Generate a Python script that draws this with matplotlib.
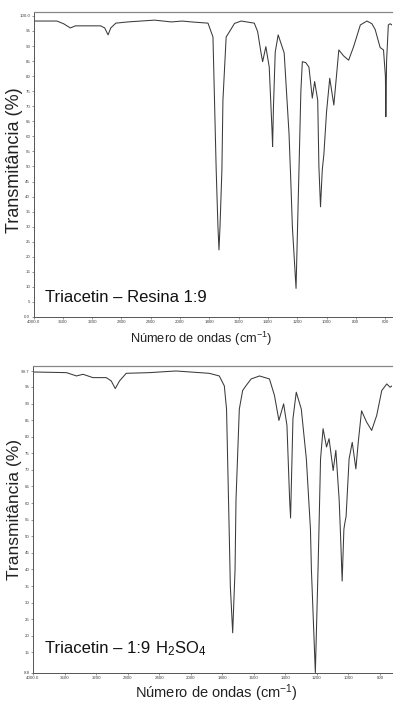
import numpy as np
import matplotlib
matplotlib.use("Agg")
import matplotlib.pyplot as plt

plt.rcParams['font.family'] = ['Liberation Sans', 'DejaVu Sans']
plt.rcParams['mathtext.default'] = 'regular'

# Triacetin - Resina 1:9 (wavenumber, transmittance)
wn_resina = [4000, 3680, 3589, 3497, 3428, 3083, 3028, 2982, 2945, 2876, 2714, 2348, 2117,
             1985, 1922, 1809, 1775, 1753, 1741, 1734, 1727, 1714, 1707, 1685, 1662, 1628,
             1583, 1493, 1470, 1447, 1436, 1414, 1391, 1372, 1368, 1362, 1350, 1330, 1289,
             1256, 1244, 1233, 1208, 1188, 1175, 1165, 1142, 1120, 1097, 1081, 1060, 1052,
             1041, 1029, 1018, 1000, 978, 950, 916, 883, 849, 815, 769, 724, 690, 668, 634,
             611, 598, 595, 590, 578, 566, 553]
t_resina = [98.3, 98.3, 97.4, 96.0, 96.7, 96.7, 96.0, 93.7, 96.0, 97.6, 98.0, 98.6, 98.0,
            98.3, 98.0, 97.6, 93.0, 48.8, 30.0, 22.3, 30.0, 48.8, 72.0, 93.0, 94.8, 97.5,
            98.3, 97.6, 94.8, 87.7, 84.8, 89.8, 83.0, 62.0, 56.6, 70.0, 88.0, 93.7, 87.7,
            61.0, 45.5, 30.0, 9.5, 48.8, 75.0, 84.8, 84.5, 83.0, 72.7, 78.2, 72.0, 50.0,
            36.6, 48.8, 54.0, 68.0, 79.3, 70.4, 88.7, 86.7, 85.3, 89.8, 97.0, 98.3, 97.4,
            95.5, 89.5, 88.7, 80.0, 66.5, 85.0, 97.0, 97.4, 97.0]

# Triacetin - 1:9 H2SO4
wn_h2so4 = [4000, 3575, 3449, 3366, 3240, 3071, 3008, 2957, 2903, 2818, 2525, 2188, 2008,
            1883, 1819, 1787, 1773, 1755, 1749, 1734, 1719, 1713, 1692, 1671, 1649, 1617,
            1564, 1501, 1469, 1441, 1411, 1390, 1373, 1367, 1352, 1331, 1299, 1267, 1241,
            1235, 1210, 1193, 1187, 1177, 1161, 1139, 1123, 1097, 1080, 1059, 1050, 1040,
            1029, 1023, 1015, 996, 976, 953, 938, 917, 885, 853, 821, 789, 757, 736, 724]
t_h2so4 = [99.5, 99.3, 98.3, 98.8, 97.8, 97.8, 96.8, 94.5, 96.8, 99.1, 99.3, 99.8, 99.5,
           99.1, 98.3, 95.3, 88.3, 49.0, 35.0, 20.9, 40.0, 61.0, 88.3, 93.9, 95.4, 97.4,
           98.3, 97.4, 92.4, 84.9, 89.9, 83.4, 61.0, 55.5, 85.4, 93.4, 88.3, 73.3, 52.1,
           40.0, 8.9, 40.0, 52.1, 73.3, 82.4, 76.9, 79.4, 69.8, 75.9, 61.0, 50.0, 36.5,
           52.1, 54.0, 56.0, 73.3, 78.3, 70.3, 78.3, 87.8, 84.4, 81.9, 86.4, 93.9, 95.9,
           94.9, 95.3]

xticks_top = [4000, 3600, 3200, 2800, 2400, 2000, 1800, 1600, 1400, 1200, 1000, 800, 600]
xticks_bot = [4000, 3600, 3200, 2800, 2400, 2000, 1800, 1600, 1400, 1200, 1000, 800]
yticks_top = [0, 5, 10, 15, 20, 25, 30, 35, 40, 45, 50, 55, 60, 65, 70, 75, 80, 85, 90, 95, 100]
yticks_bot = [8.8, 15, 20, 25, 30, 35, 40, 45, 50, 55, 60, 65, 70, 75, 80, 85, 90, 95, 99.7]


# IR spectrometer axis: region below 2000 cm-1 expanded 2x
def fwd(x):
    x = np.asarray(x, dtype=float)
    return np.where(x >= 2000, x, 2 * x - 2000)


def inv(y):
    y = np.asarray(y, dtype=float)
    return np.where(y >= 2000, y, (y + 2000) / 2)


def fmt_num(v, ends):
    if v in ends:
        return '%.1f' % v
    return '%g' % v


def setup_ax(ax, wn, t, xlim, ylim, xticks, yticks, yends):
    ax.plot(wn, t, color='#3a3a3a', lw=0.75)
    ax.set_xscale('function', functions=(fwd, inv))
    ax.set_xlim(*xlim)
    ax.set_ylim(*ylim)
    ax.set_xticks(xticks)
    ax.set_xticklabels([fmt_num(v, [4000]) for v in xticks])
    ax.set_yticks(yticks)
    ax.set_yticklabels([fmt_num(v, yends) for v in yticks])
    ax.xaxis.set_minor_locator(matplotlib.ticker.NullLocator())
    ax.tick_params(labelsize=3.2, length=1.2, width=0.4, pad=1.2, colors='#444444')
    ax.spines['right'].set_visible(False)
    ax.spines['top'].set_color('#888888')
    ax.spines['top'].set_linewidth(0.9)
    for s in ['left', 'bottom']:
        ax.spines[s].set_color('#555555')
        ax.spines[s].set_linewidth(0.7)


fig = plt.figure(figsize=(3.94, 7.06), dpi=100)
W, H = 394.0, 706.0

ax1 = fig.add_axes([33.5 / W, 1 - 317 / H, (392 - 33.5) / W, 305 / H])
setup_ax(ax1, wn_resina, t_resina, (4000, 553), (0, 101.3), xticks_top, yticks_top, [0, 100])

ax2 = fig.add_axes([33 / W, 1 - 673 / H, (392 - 33) / W, 307 / H])
setup_ax(ax2, wn_h2so4, t_h2so4, (4000, 724), (8.8, 101.3), xticks_bot, yticks_bot, [])

fig.text(15 / W, 1 - 160 / H, 'Transmitância (%)', rotation=90, fontsize=13,
         ha='center', va='center', color='#222222')
fig.text(15 / W, 1 - 510 / H, 'Transmitância (%)', rotation=90, fontsize=12.5,
         ha='center', va='center', color='#222222')
fig.text(201 / W, 1 - 339 / H, 'Número de ondas (cm$^{-1}$)', fontsize=9.2,
         ha='center', va='center', color='#222222')
fig.text(216 / W, 1 - 693 / H, 'Número de ondas (cm$^{-1}$)', fontsize=10.5,
         ha='center', va='center', color='#222222')
fig.text(45 / W, 1 - 298 / H, 'Triacetin – Resina 1:9', fontsize=12,
         ha='left', va='center', color='#111111')

# plain text part, then the formula with real subscripts right after it
lab = fig.text(45 / W, 1 - 653 / H, 'Triacetin – 1:9 ', fontsize=12,
               ha='left', va='baseline', color='#111111')
fig.canvas.draw()
bb = lab.get_window_extent()
fig.text(bb.x1 / W, 1 - 653 / H, 'H$_2$SO$_4$', fontsize=12,
         ha='left', va='baseline', color='#111111')

fig.savefig('out.png', dpi=100)
